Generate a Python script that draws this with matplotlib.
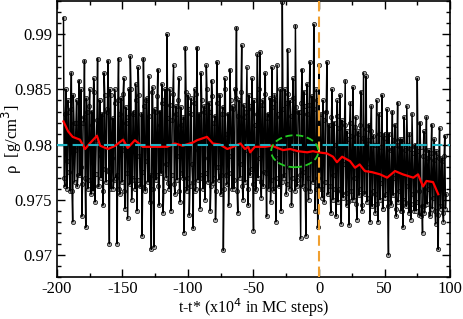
import numpy as np
import matplotlib
matplotlib.use("Agg")
import matplotlib.pyplot as plt
from matplotlib.patches import Ellipse
from matplotlib.ticker import MultipleLocator, FormatStrFormatter

plt.rcParams["font.family"] = ["Liberation Serif", "DejaVu Serif"]
plt.rcParams["axes.unicode_minus"] = False

# density samples, stored as (rho - 0.97) in units of 1e-4
# rho_k: at integer t from -195, rho_mid_k: at the half steps in between
rho_k = [
    215, 62, 150, 85, 130, 58, 165, 30, 120, 95,
    140, 72, 158, 80, 35, 120, 176, 25, 130, 68,
    150, 55, 118, 160, 48, 105, 178, 62, 140, 90,
    45, 165, 78, 130, 176, 10, 145, 88, 60, 150,
    70, 10, 178, 55, 142, 95, 160, 42, 120, 33,
    150, 180, 50, 128, 68, 155, 40, 170, 90, 62,
    17, 178, 60, 140, 85, 162, 48, 5, 152, 7,
    130, 72, 168, 45, 118, 155, 38, 140, 82, 200,
    65, 150, 40, 122, 172, 55, 135, 90, 160, 48,
    118, 70, 20, 188, 58, 145, 36, 128, 82, 24,
    150, 60, 188, 95, 42, 165, 70, 130, 50, 172,
    88, 138, 40, 158, 65, 120, 32, 175, 80, 145,
    55, 128, 4, 160, 72, 110, 45, 168, 90, 135,
    60, 150, 206, 38, 140, 82, 190, 50, 125, 95,
    170, 45, 135, 78, 160, 22, 118, 60, 182, 88,
    184, 52, 140, 75, 165, 35, 128, 92, 48, 170,
    60, 145, 30, 172, 88, 125, 40, 229, 70, 150,
    55, 186, 80, 140, 45, 160, 95, 208, 62, 130,
    130, 15, 168, 75, 135, 17, 155, 50, 175, 85,
    120, 209, 40, 150, 25, 172, 95, 60, 140, 48,
    130, 175, 55, 118, 38, 150, 72, 100, 35, 140,
    60, 145, 28, 120, 82, 158, 45, 105, 27, 138,
    50, 152, 70, 125, 32, 112, 60, 148, 40, 165,
    55, 162, 80, 118, 30, 135, 58, 100, 38, 140,
    30, 128, 65, 145, 42, 110, 55, 132, 0, 95,
    45, 130, 70, 118, 35, 138, 58, 105, 40, 25,
    125, 48, 135, 62, 110, 32, 128, 55, 98, 40,
    160, 58, 120, 35, 20, 112, 45, 125, 60, 95,
    38, 118, 52, 105, 28, 92, 5, 115, 42, 88,
    30, 108, 55,
]
rho_mid_k = [
    70, 128, 60, 140, 75, 132, 58, 145, 66, 120,
    62, 138, 72, 150, 64, 125, 70, 142, 60, 135,
    68, 130, 58, 148, 73, 122, 62, 140, 70, 128,
    58, 145, 66, 132, 75, 150, 60, 124, 68, 138,
    72, 140, 60, 128, 66, 146, 58, 134, 74, 125,
    64, 150, 70, 130, 60, 140, 68, 145, 62, 128,
    75, 135, 58, 142, 66, 126, 72, 148, 60, 132,
    68, 144, 62, 130, 74, 138, 58, 150, 70, 124,
    60, 136, 72, 146, 64, 128, 68, 140, 58, 134,
    74, 125, 60, 148, 70, 132, 62, 142, 66, 138,
    58, 146, 68, 128, 72, 140, 60, 135, 74, 150,
    66, 130, 62, 144, 70, 126, 58, 138, 68, 145,
    72, 134, 60, 150, 64, 128, 74, 140, 60, 132,
    68, 142, 58, 126, 70, 148, 62, 136, 66, 130,
    60, 145, 72, 132, 64, 140, 58, 128, 70, 150,
    66, 136, 62, 146, 74, 124, 60, 142, 68, 134,
    58, 140, 70, 128, 62, 150, 66, 132, 72, 138,
    64, 146, 60, 126, 70, 142, 58, 134, 68, 130,
    72, 138, 62, 148, 60, 128, 70, 136, 58, 144,
    66, 132, 60, 140, 70,
    60, 128, 52, 122, 66, 130, 55, 118, 62, 125,
    50, 120, 60, 126, 48, 115, 58, 122, 52, 118,
    56, 112, 48, 120, 58, 108, 50, 116, 46, 110,
    54, 118, 45, 106, 56, 114, 48, 104, 52, 112,
    44, 108, 55, 100, 46, 110, 50, 98, 42, 106,
    52, 102, 44, 110, 48, 96, 54, 104, 42, 100,
    48, 98, 40, 105, 50, 95, 44, 100, 38, 96,
    46, 92, 40, 100, 48, 94, 36, 98, 44, 90,
    38, 95, 46, 88, 35, 92, 42, 86, 40, 94,
    36, 88, 44, 85, 38, 90, 42,
]
k_all = np.empty(len(rho_k) + len(rho_mid_k))
k_all[0::2] = rho_k
k_all[1::2] = rho_mid_k
t = -195 + 0.5 * np.arange(len(k_all))
rho = 0.97 + k_all * 1e-4

# running average
avg_t = [-195, -191.5, -188, -182.5, -178.5, -175, -169.5, -167, -161, -155.5,
         -149.5, -146, -140.5, -134.5, -129, -121, -116, -110, -104, -96,
         -93, -85.5, -81, -75.5, -70, -65.5, -60, -56.5, -54, -52.5,
         -49, -41, -36, -27.5, -22, -16, -9, -4.6, -0.8, 6,
         10.7, 13.7, 17.6, 23.7, 27.5, 31, 35, 40.5, 46.6, 52,
         58, 64, 72, 75.6, 79.4, 82, 87, 91]
avg_rho = [0.9821, 0.9812, 0.9807, 0.98045, 0.9796, 0.9801, 0.9808, 0.9799, 0.9796, 0.9799,
           0.98045, 0.9797, 0.9804, 0.9798, 0.9798, 0.9798, 0.9798, 0.9801, 0.9799, 0.9802,
           0.9804, 0.9807, 0.9801, 0.98, 0.9796, 0.9798, 0.9801, 0.9796, 0.9798, 0.9793,
           0.9798, 0.9798, 0.9799, 0.9795, 0.9796, 0.9794, 0.9793, 0.9794, 0.9793, 0.9792,
           0.9789, 0.9784, 0.9789, 0.9785, 0.9779, 0.9782, 0.9776, 0.9775, 0.9773, 0.9770,
           0.9776, 0.9773, 0.9770, 0.9773, 0.9762, 0.9767, 0.9766, 0.9755]

rho_ref = 0.98
t_star = 0

fig = plt.figure(figsize=(4.63, 3.19), dpi=100)
ax = fig.add_axes([0.123, 0.132, 0.849, 0.864])

# markers underneath, lines on top so the dense core stays black
ax.plot(t, rho, ls="none", marker="o", ms=3.0,
        mfc="#b0b0b0", mec="#202020", mew=0.6, zorder=1.5)
ax.plot(t, rho, color="black", lw=1.05, zorder=2)
ax.plot(avg_t, avg_rho, color="red", lw=1.6, zorder=3)
ax.axhline(rho_ref, color="#1fb2c2", ls=(0, (5, 2.5)), lw=1.5, zorder=4)
ax.axvline(t_star, color="#f0a030", ls=(0, (5, 2.5)), lw=1.5, zorder=4)
ax.add_patch(Ellipse((-18.5, 0.9794), 36, 0.0029, fill=False, ls=(0, (4, 2)),
                     ec="#22cc22", lw=1.3, zorder=5))

ax.set_xlim(-200, 100)
ax.set_ylim(0.968, 0.993)
ax.xaxis.set_major_locator(MultipleLocator(50))
ax.xaxis.set_minor_locator(MultipleLocator(25))
ax.yaxis.set_major_locator(MultipleLocator(0.005))
ax.yaxis.set_minor_locator(MultipleLocator(0.001))
ax.yaxis.set_major_formatter(FormatStrFormatter("%g"))
ax.tick_params(which="both", direction="in", top=True, right=True, labelsize=12)
ax.tick_params(which="major", length=6, width=1)
ax.tick_params(which="minor", length=3, width=1)
ax.tick_params(axis="x", pad=3)
for s in ax.spines.values():
    s.set_linewidth(1.2)

ax.set_xlabel("t-t* (x10$^4$ in MC steps)", fontsize=11.5)
ax.set_ylabel("ρ  [g/cm$^3$]", fontsize=12)
ax.xaxis.set_label_coords(0.5, -0.072)
ax.yaxis.set_label_coords(-0.085, 0.5)

fig.savefig("out.png", dpi=100)
